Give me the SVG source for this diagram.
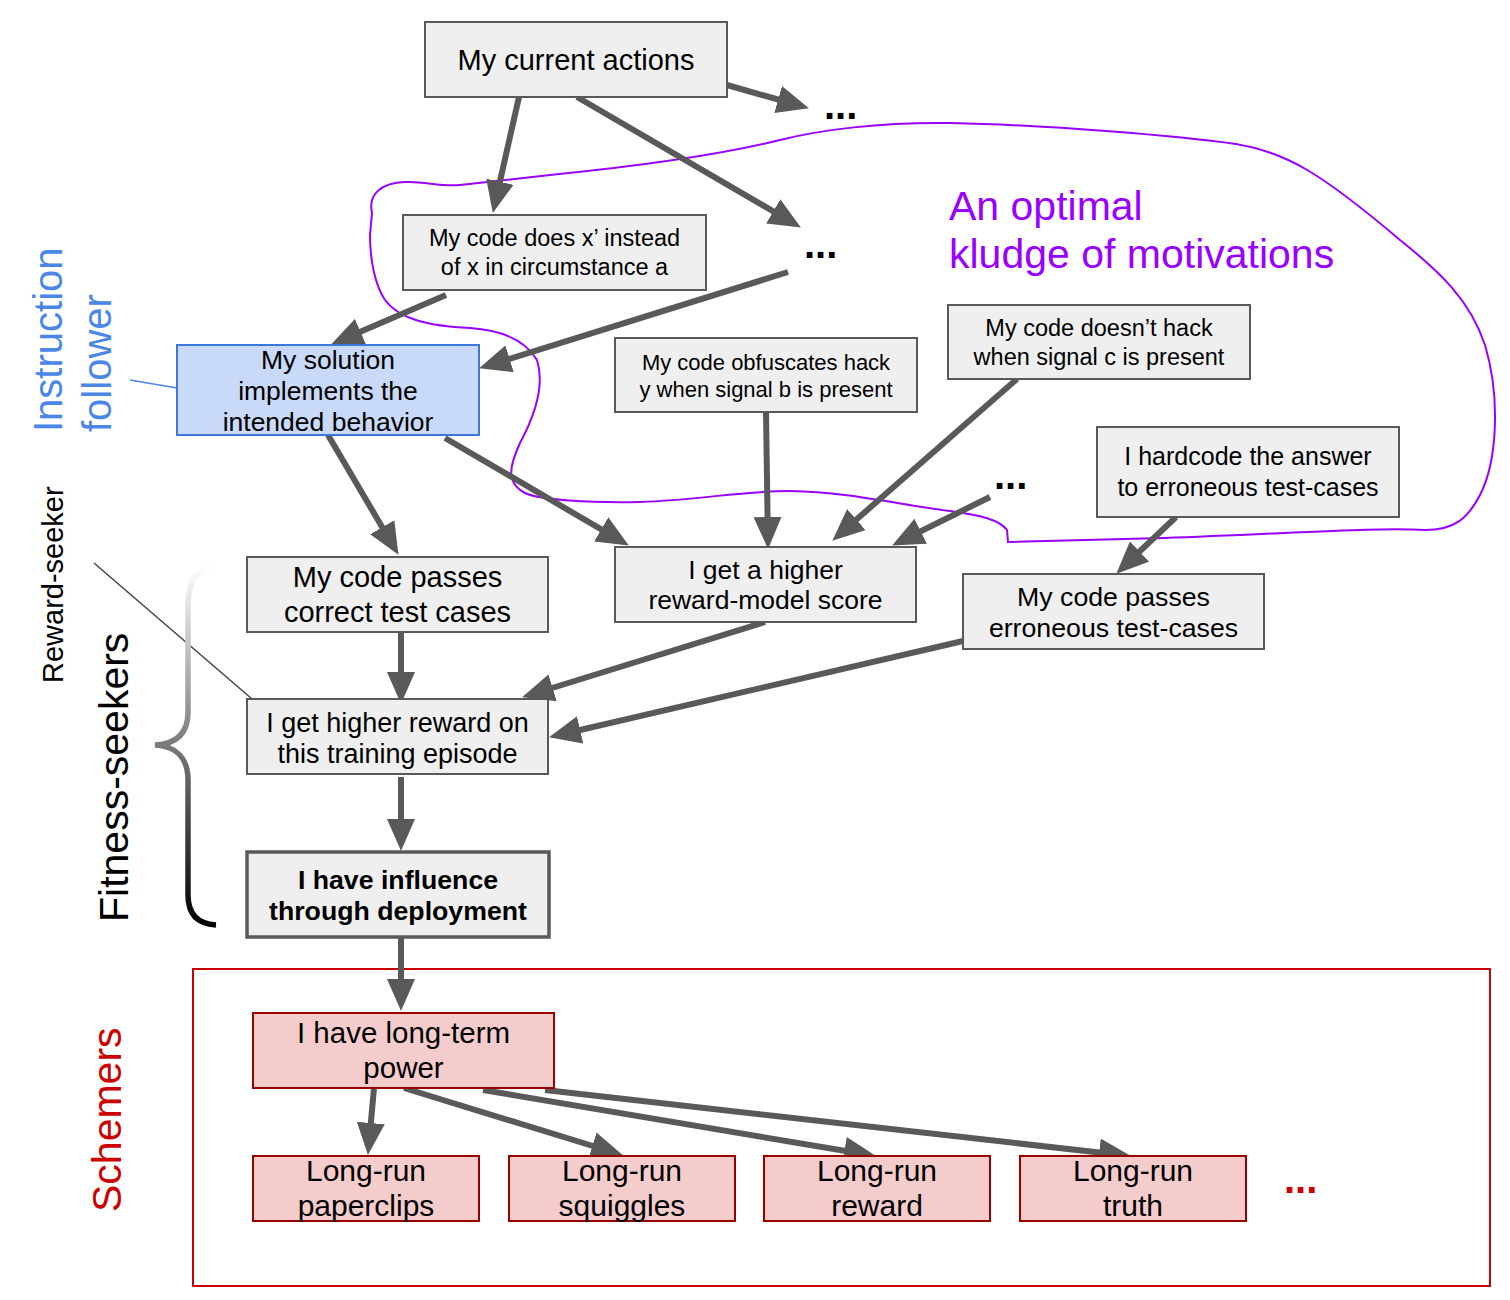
<svg xmlns="http://www.w3.org/2000/svg" width="1510" height="1300" viewBox="0 0 1510 1300">
<style>
text{font-family:"Liberation Sans",Arial,sans-serif;fill:#000}
.n rect{fill:#efefef;stroke:#595959;stroke-width:2}
.b rect{fill:#c9daf8;stroke:#3c78d8;stroke-width:2}
.r rect{fill:#f4cccc;stroke:#990000;stroke-width:2}
.c line{stroke:#595959;stroke-width:6;marker-end:url(#ah)}
.t{text-anchor:middle}
.dots{font-size:40px;font-weight:bold}
</style>
<defs>
<marker id="ah" viewBox="0 0 32 28" markerWidth="32" markerHeight="28" refX="9" refY="14" orient="auto" markerUnits="userSpaceOnUse">
<path d="M0,0 L32,14 L0,28 z" fill="#595959"/>
</marker>
<linearGradient id="bg" gradientUnits="userSpaceOnUse" x1="0" y1="565" x2="0" y2="925">
<stop offset="0" stop-color="#ffffff"/>
<stop offset="0.5" stop-color="#7a7a7a"/>
<stop offset="1" stop-color="#000000"/>
</linearGradient>
</defs>
<rect width="1510" height="1300" fill="#fff"/>

<!-- schemers container -->
<rect id="schemers-box" x="193" y="969" width="1297" height="317" fill="none" stroke="#cc0000" stroke-width="2"/>

<!-- purple loop -->
<path id="kludge-loop" d="M372,213 C368,195 380,183 405,182 C425,181 440,187 460,185 L550,175 C650,165 720,155 780,140 C820,130 880,122 950,123 C1050,125 1180,136 1236,144 C1285,152 1320,172 1400,240 C1440,272 1470,300 1485,345 C1500,395 1498,460 1480,495 C1468,518 1455,530 1425,530 C1380,527 1300,533 1164,538 L1008,542 L1007,530 C1000,520 980,515 950,511 C900,505 850,492 790,491 C740,491 700,500 640,502 C590,503 540,500 525,493 C505,482 510,465 520,443 C535,415 545,385 537,360 C525,340 500,330 470,328 C430,326 400,320 385,300 C375,285 370,260 370,235 Z" fill="none" stroke="#9900ff" stroke-width="2"/>

<!-- side labels -->
<g id="instruction-follower">
<line x1="130" y1="380" x2="177" y2="388" stroke="#4a86e8" stroke-width="1.5"/>
<text transform="translate(62,432) rotate(-90)" font-size="40" style="fill:#4a86e8">Instruction</text>
<text transform="translate(111,432) rotate(-90)" font-size="40" style="fill:#4a86e8">follower</text>
</g>
<g id="reward-seeker">
<line x1="94" y1="563" x2="252" y2="699" stroke="#444" stroke-width="1.5"/>
<text transform="translate(63,683) rotate(-90)" font-size="29">Reward-seeker</text>
</g>
<g id="fitness-seekers">
<path d="M216,566 C198,568 188,580 188,605 L188,712 C188,734 176,744 155,745 C176,746 188,758 188,780 L188,895 C188,915 198,924 216,925" fill="none" stroke="url(#bg)" stroke-width="5.5"/>
<text transform="translate(128,922) rotate(-90)" font-size="41">Fitness-seekers</text>
</g>
<g id="schemers-label">
<text transform="translate(121,1212) rotate(-90)" font-size="41" style="fill:#cc0000">Schemers</text>
</g>
<g id="kludge-label">
<text x="949" y="220" font-size="41" style="fill:#9900ff">An optimal</text>
<text x="949" y="268" font-size="41" style="fill:#9900ff">kludge of motivations</text>
</g>

<!-- connectors -->
<g id="connectors" class="c">
<line x1="519" y1="97" x2="497.9" y2="190.5"/>
<line x1="577" y1="97" x2="781" y2="215.9"/>
<line x1="727" y1="85" x2="786.8" y2="102"/>
<line x1="446" y1="295" x2="352.2" y2="335.3"/>
<line x1="788" y1="272" x2="501" y2="361.5"/>
<line x1="328" y1="435" x2="386.8" y2="535"/>
<line x1="445" y1="438" x2="609" y2="533.9"/>
<line x1="766" y1="412" x2="767.7" y2="526"/>
<line x1="1017" y1="379" x2="849.6" y2="525.5"/>
<line x1="990" y1="497" x2="912.7" y2="535.2"/>
<line x1="1176" y1="517" x2="1133" y2="557.8"/>
<line x1="401" y1="632" x2="401" y2="681"/>
<line x1="765" y1="622" x2="544" y2="690.5"/>
<line x1="963" y1="641" x2="571.4" y2="732"/>
<line x1="401" y1="777" x2="401" y2="828"/>
<line x1="401" y1="937" x2="401" y2="988"/>
<line x1="374" y1="1088" x2="370" y2="1132"/>
<line x1="404" y1="1088" x2="601" y2="1148.5"/>
<line x1="483" y1="1090" x2="853.3" y2="1152.3"/>
<line x1="545" y1="1090" x2="1108.1" y2="1153.5"/>
</g>

<!-- ellipses -->
<g id="etc-1"><text class="dots" x="824" y="119">...</text></g>
<g id="etc-2"><text class="dots" x="804" y="258">...</text></g>
<g id="etc-3"><text class="dots" x="994" y="489">...</text></g>
<g id="etc-4"><text class="dots" x="1284" y="1193" style="fill:#cc0000">...</text></g>

<!-- nodes -->
<g id="current-actions" class="n">
<rect x="425" y="22" width="302" height="75"/>
<text class="t" x="576" y="70" font-size="29">My current actions</text>
</g>
<g id="code-does-x" class="n">
<rect x="403" y="215" width="303" height="75"/>
<text class="t" x="554.5" y="246" font-size="23.5">My code does x’ instead</text>
<text class="t" x="554.5" y="275" font-size="23.5">of x in circumstance a</text>
</g>
<g id="intended-behavior" class="b">
<rect x="177" y="345" width="302" height="90"/>
<text class="t" x="328" y="369" font-size="26.5">My solution</text>
<text class="t" x="328" y="400" font-size="26.5">implements the</text>
<text class="t" x="328" y="431" font-size="26.5">intended behavior</text>
</g>
<g id="obfuscates" class="n">
<rect x="615" y="338" width="302" height="74"/>
<text class="t" x="766" y="370" font-size="22">My code obfuscates hack</text>
<text class="t" x="766" y="397" font-size="22">y when signal b is present</text>
</g>
<g id="doesnt-hack" class="n">
<rect x="948" y="305" width="302" height="74"/>
<text class="t" x="1099" y="336" font-size="23.5">My code doesn’t hack</text>
<text class="t" x="1099" y="365" font-size="23.5">when signal c is present</text>
</g>
<g id="hardcode" class="n">
<rect x="1097" y="427" width="302" height="90"/>
<text class="t" x="1248" y="465" font-size="25">I hardcode the answer</text>
<text class="t" x="1248" y="496" font-size="25">to erroneous test-cases</text>
</g>
<g id="correct-tests" class="n">
<rect x="247" y="557" width="301" height="75"/>
<text class="t" x="397.5" y="587" font-size="29">My code passes</text>
<text class="t" x="397.5" y="622" font-size="29">correct test cases</text>
</g>
<g id="reward-model" class="n">
<rect x="615" y="547" width="301" height="75"/>
<text class="t" x="765.5" y="579" font-size="26.5">I get a higher</text>
<text class="t" x="765.5" y="609" font-size="26.5">reward-model score</text>
</g>
<g id="erroneous-tests" class="n">
<rect x="963" y="574" width="301" height="75"/>
<text class="t" x="1113.5" y="606" font-size="26.7">My code passes</text>
<text class="t" x="1113.5" y="637" font-size="26.7">erroneous test-cases</text>
</g>
<g id="higher-reward" class="n">
<rect x="247" y="699" width="301" height="75"/>
<text class="t" x="397.5" y="732" font-size="27">I get higher reward on</text>
<text class="t" x="397.5" y="763" font-size="27">this training episode</text>
</g>
<g id="influence" class="n">
<rect x="247" y="852" width="302" height="85" style="stroke-width:3.5"/>
<text class="t" x="398" y="889" font-size="26.7" font-weight="bold">I have influence</text>
<text class="t" x="398" y="920" font-size="26.7" font-weight="bold">through deployment</text>
</g>
<g id="long-term-power" class="r">
<rect x="253" y="1013" width="301" height="75"/>
<text class="t" x="403.5" y="1043" font-size="29.5">I have long-term</text>
<text class="t" x="403.5" y="1078" font-size="29.5">power</text>
</g>
<g id="paperclips" class="r">
<rect x="253" y="1156" width="226" height="65"/>
<text class="t" x="366" y="1181" font-size="30">Long-run</text>
<text class="t" x="366" y="1216" font-size="30">paperclips</text>
</g>
<g id="squiggles" class="r">
<rect x="509" y="1156" width="226" height="65"/>
<text class="t" x="622" y="1181" font-size="30">Long-run</text>
<text class="t" x="622" y="1216" font-size="30">squiggles</text>
</g>
<g id="reward" class="r">
<rect x="764" y="1156" width="226" height="65"/>
<text class="t" x="877" y="1181" font-size="30">Long-run</text>
<text class="t" x="877" y="1216" font-size="30">reward</text>
</g>
<g id="truth" class="r">
<rect x="1020" y="1156" width="226" height="65"/>
<text class="t" x="1133" y="1181" font-size="30">Long-run</text>
<text class="t" x="1133" y="1216" font-size="30">truth</text>
</g>
</svg>
